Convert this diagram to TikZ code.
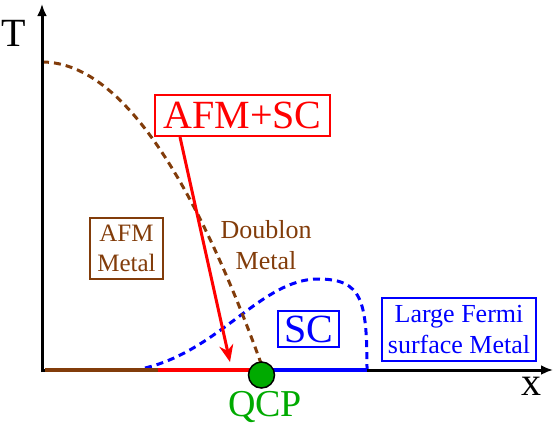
\documentclass[tikz,border=0pt]{standalone}
\usepackage{fontspec}
\setmainfont{Liberation Serif}
\usetikzlibrary{arrows.meta}
\definecolor{brn}{RGB}{130,60,10}
\definecolor{grn}{RGB}{0,170,0}
\definecolor{blu}{RGB}{0,0,255}
\definecolor{rd}{RGB}{255,0,0}
\tikzset{
  axis/.style={line width=3pt, -{Latex[length=12pt,width=10pt]}},
  seg/.style={line width=4pt},
  phase/.style={line width=3pt, dash pattern=on 7pt off 5pt},
  boxed/.style={draw, line width=2pt, inner sep=0pt, align=center},
  big/.style={font=\fontsize{40}{44}\selectfont},
  mid/.style={font=\fontsize{26}{31}\selectfont},
}
\begin{document}
\begin{tikzpicture}[x=1pt,y=-1pt]
\useasboundingbox (0,0) rectangle (554,440);
% coordinates
\coordinate (o) at (42,370);
\coordinate (ytop) at (42,4);
\coordinate (xend) at (553,370);
\coordinate (ybot) at (42,372);
\coordinate (b0) at (45,370);
\coordinate (b1) at (158,370);
\coordinate (r1) at (262,370);
\coordinate (bl1) at (367,370);
\coordinate (tn) at (42,62);
\coordinate (tq) at (262,366);
% blue dome
\draw[phase, blu] (145,368) .. controls (220,350) and (262,279) .. (318,279)
   .. controls (362,279) and (367,300) .. (bl1);
% brown dashed boundary
\draw[phase, brn] (tn) .. controls (115.3,62) and (188.7,163.3) .. (tq);
% axes
\draw[axis] (ybot) -- (ytop);
\draw[axis] (o) -- (xend);
% coloured segments
\draw[seg, brn] (b0) -- (b1);
\draw[seg, rd] (b1) -- (r1);
\draw[seg, blu] (r1) -- (bl1);
% labels
\node[big] (T) at (14,33) {T};
\node[big] (X) at (531,386) {x};
\node[boxed, big, rd, fill=white, minimum width=175pt, minimum height=41pt] (afmsc) at (242.5,115.5) {AFM+SC};
\node[boxed, brn, font=\fontsize{25}{30}\selectfont, minimum width=73pt, minimum height=61pt] (afm) at (126.5,248.5) {AFM\\Metal};
\node[brn, mid, align=center] (doub) at (266,245) {Doublon\\Metal};
\node[boxed, big, blu, minimum width=61pt, minimum height=36pt] (sc) at (308.5,329) {SC};
\node[boxed, blu, mid, minimum width=154pt, minimum height=63pt] (lfs) at (459,329.5) {Large Fermi\\surface Metal};
% arrow
\coordinate (arrtip) at (230,362);
\draw[rd, line width=3pt, -{Stealth[length=17pt,width=14pt]}] (afmsc.south -| 180,0) -- (arrtip);
% QCP
\node[circle, draw=black, line width=1.5pt, fill=grn, minimum size=26pt, inner sep=0pt] (qcp) at (261.5,375) {};
\node[grn, font=\fontsize{38}{40}\selectfont] (qcpl) at (265,407) {QCP};
\end{tikzpicture}
\end{document}
